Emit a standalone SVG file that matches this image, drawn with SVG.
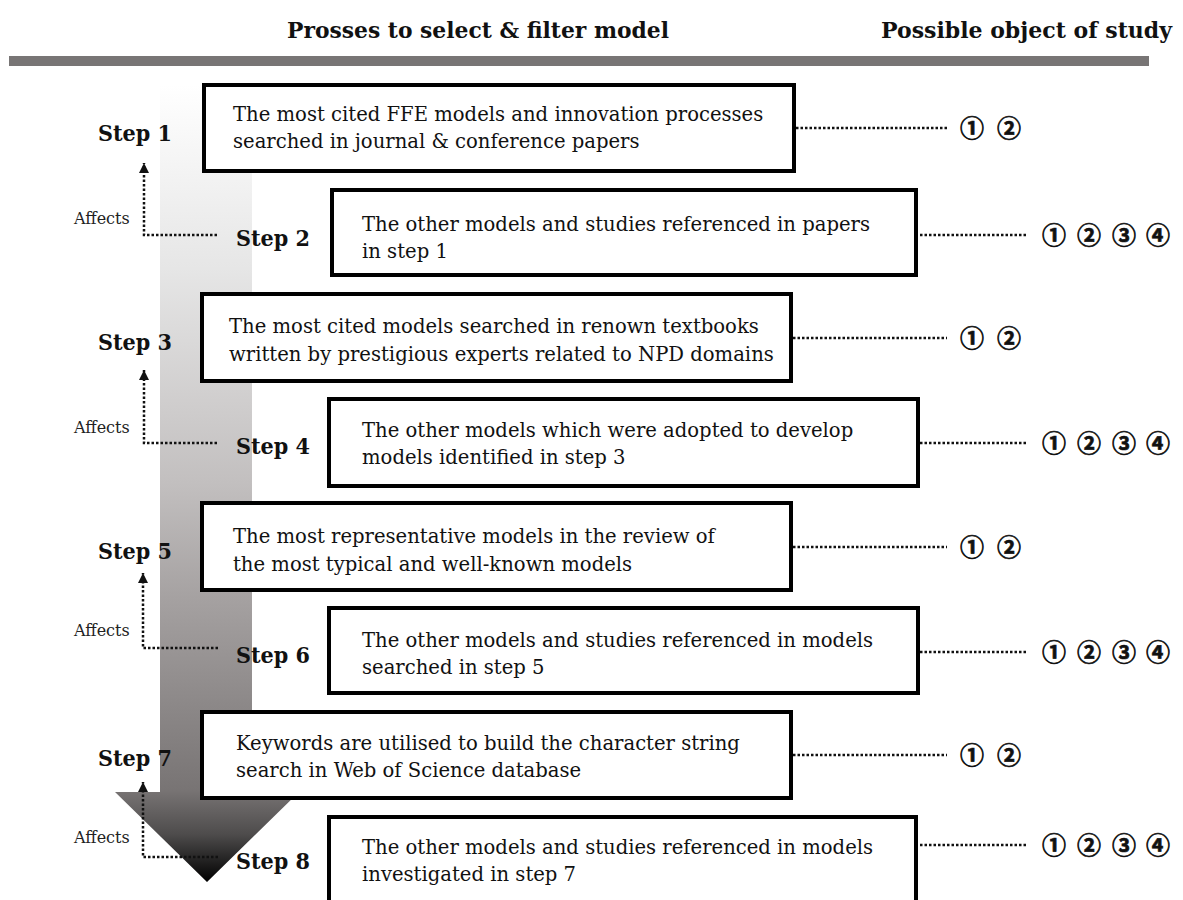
<svg xmlns="http://www.w3.org/2000/svg" width="1183" height="900" viewBox="0 0 1183 900">
  <style>
    .box { fill: #ffffff; stroke: #000000; stroke-width: 4; }
    .body { font-family: "DejaVu Serif", "Liberation Serif", serif; font-size: 19.6px; fill: #111111; }
    .step { font-family: "DejaVu Serif", "Liberation Serif", serif; font-size: 23px; font-weight: bold; fill: #111111; }
    .head { font-family: "DejaVu Serif", "Liberation Serif", serif; font-size: 22px; font-weight: bold; fill: #111111; }
    .aff { font-family: "DejaVu Serif", "Liberation Serif", serif; font-size: 16px; fill: #222222; }
    .num { font-family: "Noto Sans CJK KR", "DejaVu Sans", sans-serif; font-size: 24px; font-weight: bold; fill: #111111; stroke: #111111; stroke-width: 0.7; text-anchor: middle; }
    .dot { fill: none; stroke: #111111; stroke-width: 2.5; stroke-dasharray: 2.5 2; }
  </style>
  <defs>
    <linearGradient id="flowShade" gradientUnits="userSpaceOnUse" x1="0" y1="85" x2="0" y2="882">
      <stop offset="0" stop-color="#ffffff"/>
      <stop offset="0.23" stop-color="#e6e6e6"/>
      <stop offset="0.5" stop-color="#c2bfbf"/>
      <stop offset="0.65" stop-color="#a4a0a0"/>
      <stop offset="0.885" stop-color="#787474"/>
      <stop offset="0.94" stop-color="#4e4c4c"/>
      <stop offset="1" stop-color="#000000"/>
    </linearGradient>
    <marker id="tip" markerUnits="userSpaceOnUse" markerWidth="12" markerHeight="12" refX="10" refY="5" orient="auto">
      <path d="M0,0 L10,5 L0,10 Z" fill="#111111"/>
    </marker>
  </defs>

  <rect width="1183" height="900" fill="#ffffff"/>

  <!-- column headings and rule -->
  <g id="header">
    <text class="head" x="287" y="38" textLength="382" lengthAdjust="spacingAndGlyphs">Prosses to select &amp; filter model</text>
    <text class="head" x="881" y="38" textLength="291" lengthAdjust="spacingAndGlyphs">Possible object of study</text>
    <rect x="9" y="56" width="1140" height="10" fill="#787575"/>
  </g>

  <!-- downward flow arrow -->
  <g id="flow-arrow">
    <path d="M160,85 L252,85 L252,792 L299,792 L207,882 L115,792 L160,792 Z" fill="url(#flowShade)"/>
  </g>

  <!-- connectors: box-to-object dotted leaders and "Affects" feedback arrows -->
  <g id="connectors">
    <path class="dot" d="M796,128 H947"/>
    <path class="dot" d="M920,235 H1028"/>
    <path class="dot" d="M793,338 H947"/>
    <path class="dot" d="M920,443 H1028"/>
    <path class="dot" d="M793,547 H947"/>
    <path class="dot" d="M920,652 H1028"/>
    <path class="dot" d="M793,755 H947"/>
    <path class="dot" d="M920,845 H1028"/>

    <path class="dot" d="M217,235 H144 V163" marker-end="url(#tip)"/>
    <path class="dot" d="M217,443 H144 V370" marker-end="url(#tip)"/>
    <path class="dot" d="M218,648 H143 V573" marker-end="url(#tip)"/>
    <path class="dot" d="M218,857 H143 V782" marker-end="url(#tip)"/>

    <text class="aff" x="74" y="224">Affects</text>
    <text class="aff" x="74" y="433">Affects</text>
    <text class="aff" x="74" y="636">Affects</text>
    <text class="aff" x="74" y="843">Affects</text>
  </g>

  <g id="step1">
    <rect class="box" x="204" y="85" width="590" height="86"/>
    <text class="body" x="233" y="121">The most cited FFE models and innovation processes</text>
    <text class="body" x="233" y="148">searched in journal &amp; conference papers</text>
    <text class="step" x="98" y="141" textLength="74" lengthAdjust="spacingAndGlyphs">Step 1</text>
    <text class="num" y="137"><tspan x="972">①</tspan><tspan x="1009">②</tspan></text>
  </g>

  <g id="step2">
    <rect class="box" x="332" y="190" width="584" height="85"/>
    <text class="body" x="362" y="231">The other models and studies referenced in papers</text>
    <text class="body" x="362" y="258">in step 1</text>
    <text class="step" x="236" y="246" textLength="74" lengthAdjust="spacingAndGlyphs">Step 2</text>
    <text class="num" y="244"><tspan x="1054">①</tspan><tspan x="1089">②</tspan><tspan x="1124">③</tspan><tspan x="1158">④</tspan></text>
  </g>

  <g id="step3">
    <rect class="box" x="202" y="294" width="589" height="87"/>
    <text class="body" x="229" y="333">The most cited models searched in renown textbooks</text>
    <text class="body" x="229" y="361">written by prestigious experts related to NPD domains</text>
    <text class="step" x="98" y="350" textLength="74" lengthAdjust="spacingAndGlyphs">Step 3</text>
    <text class="num" y="347"><tspan x="972">①</tspan><tspan x="1009">②</tspan></text>
  </g>

  <g id="step4">
    <rect class="box" x="329" y="399" width="589" height="87"/>
    <text class="body" x="362" y="437">The other models which were adopted to develop</text>
    <text class="body" x="362" y="464">models identified in step 3</text>
    <text class="step" x="236" y="454" textLength="74" lengthAdjust="spacingAndGlyphs">Step 4</text>
    <text class="num" y="452"><tspan x="1054">①</tspan><tspan x="1089">②</tspan><tspan x="1124">③</tspan><tspan x="1158">④</tspan></text>
  </g>

  <g id="step5">
    <rect class="box" x="202" y="503" width="589" height="87"/>
    <text class="body" x="233" y="543">The most representative models in the review of</text>
    <text class="body" x="233" y="571">the most typical and well-known models</text>
    <text class="step" x="98" y="559" textLength="74" lengthAdjust="spacingAndGlyphs">Step 5</text>
    <text class="num" y="556"><tspan x="972">①</tspan><tspan x="1009">②</tspan></text>
  </g>

  <g id="step6">
    <rect class="box" x="329" y="608" width="589" height="85"/>
    <text class="body" x="362" y="647">The other models and studies referenced in models</text>
    <text class="body" x="362" y="674">searched in step 5</text>
    <text class="step" x="236" y="663" textLength="74" lengthAdjust="spacingAndGlyphs">Step 6</text>
    <text class="num" y="661"><tspan x="1054">①</tspan><tspan x="1089">②</tspan><tspan x="1124">③</tspan><tspan x="1158">④</tspan></text>
  </g>

  <g id="step7">
    <rect class="box" x="202" y="712" width="589" height="86"/>
    <text class="body" x="236" y="750">Keywords are utilised to build the character string</text>
    <text class="body" x="236" y="777">search in Web of Science database</text>
    <text class="step" x="98" y="766" textLength="74" lengthAdjust="spacingAndGlyphs">Step 7</text>
    <text class="num" y="764"><tspan x="972">①</tspan><tspan x="1009">②</tspan></text>
  </g>

  <g id="step8">
    <rect class="box" x="329" y="817" width="587" height="90"/>
    <text class="body" x="362" y="854">The other models and studies referenced in models</text>
    <text class="body" x="362" y="881">investigated in step 7</text>
    <text class="step" x="236" y="869" textLength="74" lengthAdjust="spacingAndGlyphs">Step 8</text>
    <text class="num" y="854"><tspan x="1054">①</tspan><tspan x="1089">②</tspan><tspan x="1124">③</tspan><tspan x="1158">④</tspan></text>
  </g>
</svg>
